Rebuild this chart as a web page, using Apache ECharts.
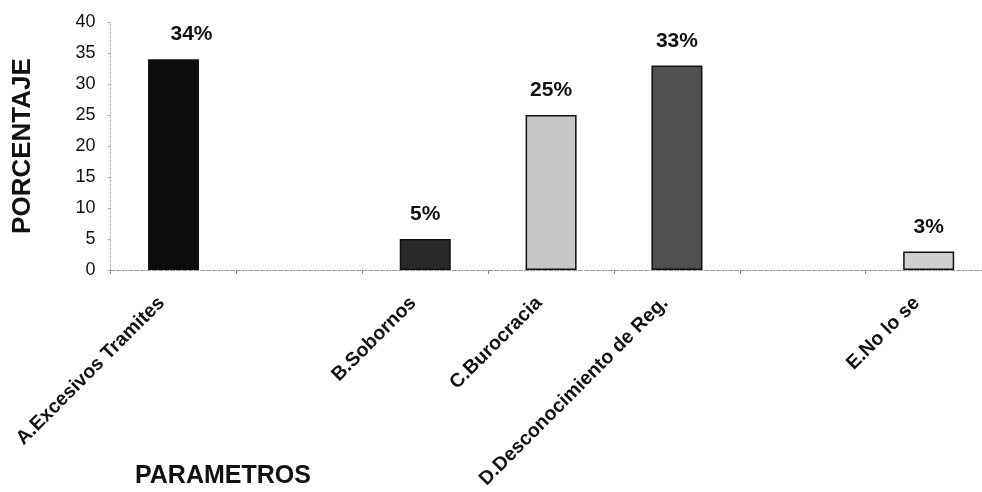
<!DOCTYPE html>
<html>
<head>
<meta charset="utf-8">
<style>
  html, body { margin: 0; padding: 0; background: #fff; }
  #chart { width: 982px; height: 492px; }
</style>
<script src="https://cdn.jsdelivr.net/npm/echarts@6/dist/echarts.min.js"></script>
</head>
<body>
<div id="chart"></div>
<script>
// Categories (empty strings leave gaps on the axis)
const categories = [
  'A.Excesivos Tramites',
  '',
  'B.Sobornos',
  'C.Burocracia',
  'D.Desconocimiento de Reg.',
  '',
  'E.No lo se'
];
// Percentage per category ('-' = no bar)
const percentages = [34, '-', 5, 25, 33, '-', 3];
// Value axis ticks
const yTicks = { min: 0, max: 40, step: 5 };

// Fill shade for each bar
const fills = ['#0b0b0b', null, '#292929', '#c6c6c6', '#505050', null, '#cfcfcf'];

const chart = echarts.init(document.getElementById('chart'), null, { renderer: 'canvas' });

const seriesData = percentages.map((v, i) => {
  const item = { value: v, itemStyle: { color: fills[i] || '#000' } };
  // the first value label sits a little to the right of its bar
  if (i === 0) item.label = { offset: [18, 0] };
  return item;
});

const FONT = '"Liberation Sans", Arial, sans-serif';

chart.setOption({
  backgroundColor: '#ffffff',
  animation: false,
  title: {
    text: 'PARAMETROS',
    left: 130,
    top: 459,
    textStyle: { fontFamily: FONT, fontSize: 25, fontWeight: 'bold', color: '#111' }
  },
  grid: {
    left: 110.6,
    width: 881,
    top: 22,
    bottom: 222,
    containLabel: false,
    outerBoundsMode: 'none'
  },
  xAxis: {
    type: 'category',
    data: categories,
    axisLine: { show: true, lineStyle: { color: '#9a9a9a', width: 1, type: [4, 2] } },
    axisTick: { show: true, alignWithLabel: false, length: 4, lineStyle: { color: '#888' } },
    axisLabel: {
      interval: 0,
      rotate: 45,
      margin: 18,
      padding: [0, 17, 0, 0],
      fontFamily: FONT,
      fontSize: 19.5,
      fontWeight: 'bold',
      color: '#111'
    },
    splitLine: { show: false }
  },
  yAxis: {
    type: 'value',
    min: yTicks.min,
    max: yTicks.max,
    interval: yTicks.step,
    name: 'PORCENTAJE',
    nameLocation: 'middle',
    nameRotate: 90,
    nameGap: 75,
    nameTextStyle: { fontFamily: FONT, fontSize: 26, fontWeight: 'bold', color: '#111' },
    axisLine: { show: true, lineStyle: { color: '#b8b8b8', width: 1, type: [2, 2] } },
    axisTick: { show: true, length: 3, lineStyle: { color: '#aaa' } },
    axisLabel: { margin: 15, fontFamily: FONT, fontSize: 18, color: '#111' },
    splitLine: { show: false }
  },
  series: [{
    type: 'bar',
    data: seriesData,
    barWidth: 51,
    itemStyle: { borderColor: '#111', borderWidth: 1.5 },
    label: {
      show: true,
      position: 'top',
      distance: 14,
      formatter: p => p.value + '%',
      fontFamily: FONT,
      fontSize: 21,
      fontWeight: 'bold',
      color: '#111'
    }
  }]
});
</script>
</body>
</html>
